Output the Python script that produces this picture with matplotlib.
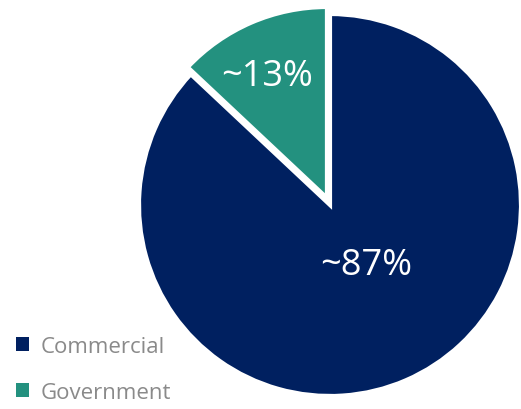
import matplotlib
matplotlib.use("Agg")
import matplotlib.pyplot as plt
from matplotlib.patches import Patch

plt.rcParams["font.family"] = ["Open Sans", "DejaVu Sans"]

# ─── data ───────────────────────────────────────────────
SEGMENTS = ["Government", "Commercial"]
SHARES = [13, 87]
LABELS = ["~13%", "~87%"]
COLORS = ["#23917F", "#002060"]
LEGEND_ORDER = ["Commercial", "Government"]

W, H = 521, 410
fig = plt.figure(figsize=(W / 100, H / 100), dpi=100)

# pie centre ~(330, 206) px, radius ~191 px
cx, cy, r = 330, 206, 191
ax = fig.add_axes([(cx - r) / W, (H - cy - r) / H, 2 * r / W, 2 * r / H])

wedges, _ = ax.pie(
    SHARES,
    colors=COLORS,
    startangle=90,
    counterclock=True,
    explode=[0.04, 0],
    wedgeprops=dict(edgecolor="white", linewidth=3),
)
for w in wedges:
    w.set_clip_on(False)
ax.set_xlim(-1, 1)
ax.set_ylim(-1, 1)
ax.set_aspect("equal")

# label positions in axes-fraction
label_pos = {"~13%": ((267 - cx + r) / (2 * r), 1 - (77 - cy + r) / (2 * r)),
             "~87%": ((366 - cx + r) / (2 * r), 1 - (266 - cy + r) / (2 * r))}
for lab in LABELS:
    x, y = label_pos[lab]
    ax.text(x, y, lab, transform=ax.transAxes, ha="center", va="center",
            color="white", fontsize=26)

handles = [Patch(facecolor=COLORS[SEGMENTS.index(n)], edgecolor="none")
           for n in LEGEND_ORDER]
fig.legend(handles, LEGEND_ORDER, loc="upper left",
           bbox_to_anchor=(0.0, 1 - 321 / H), frameon=False,
           fontsize=16, labelcolor="#8a8a8a",
           handlelength=0.62, handleheight=0.62, handletextpad=0.5,
           labelspacing=1.15, borderaxespad=0.3)

fig.savefig("out.png", dpi=100)
